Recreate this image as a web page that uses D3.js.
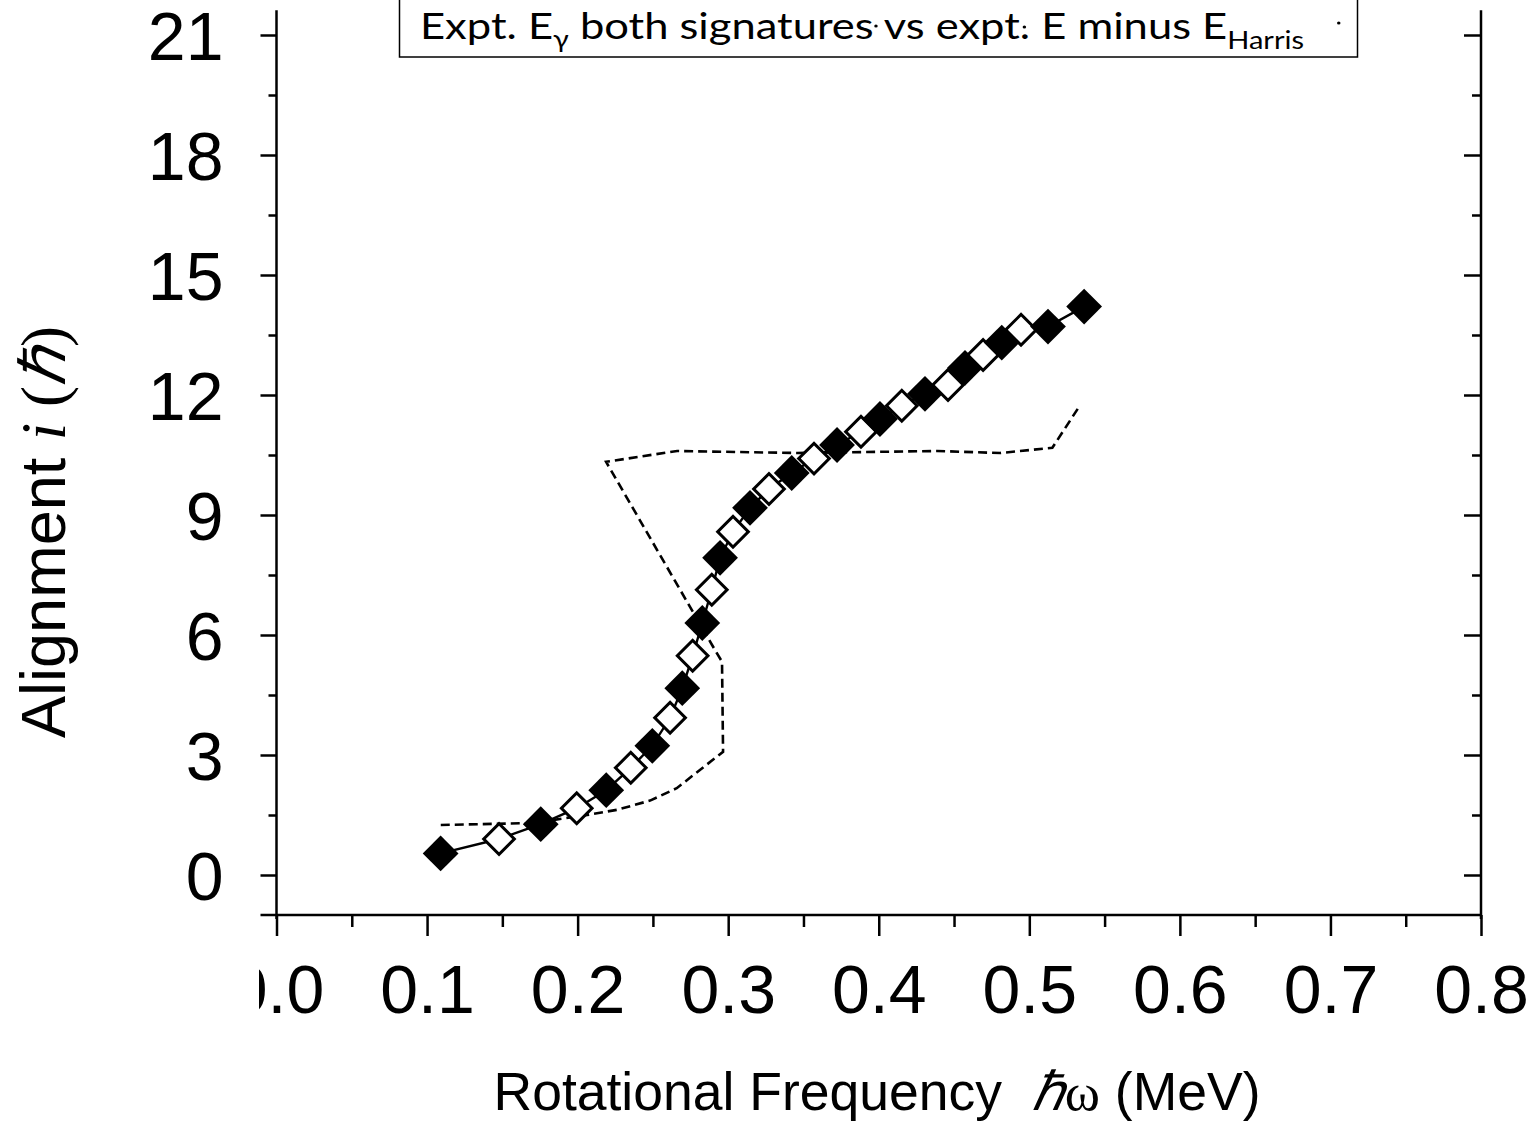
<!DOCTYPE html>
<html>
<head>
<meta charset="utf-8">
<script src="https://cdn.jsdelivr.net/npm/d3@7"></script>
<style>
  body { margin: 0; background: #fff; }
  svg { display: block; }
</style>
</head>
<body>
<div id="chart"></div>
<script>
// values
const filledX = [0.109, 0.1755, 0.219, 0.2496, 0.2695, 0.2828, 0.2946, 0.3145, 0.3422, 0.3723, 0.4008, 0.4307, 0.4573, 0.4817, 0.5124, 0.5364];
const filledY = [0.54, 1.27, 2.12, 3.23, 4.67, 6.3, 7.93, 9.18, 10.05, 10.75, 11.4, 12.03, 12.68, 13.31, 13.71, 14.21];
const openX = [0.1478, 0.1994, 0.2353, 0.2614, 0.2764, 0.2891, 0.3032, 0.3271, 0.357, 0.3882, 0.4153, 0.446, 0.4693, 0.4945];
const openY = [0.9, 1.67, 2.68, 3.93, 5.48, 7.13, 8.58, 9.65, 10.41, 11.08, 11.73, 12.25, 13.0, 13.63];
const harrisX = [0.1091, 0.1704, 0.2063, 0.2262, 0.2481, 0.2658, 0.2966, 0.2959, 0.2893, 0.2189, 0.2661, 0.3458, 0.4388, 0.4807, 0.5153, 0.5326];
const harrisY = [1.25, 1.3, 1.5, 1.63, 1.86, 2.17, 3.08, 5.33, 5.75, 10.33, 10.6, 10.55, 10.6, 10.55, 10.68, 11.68];
const xMajor = [0, 0.1, 0.2, 0.3, 0.4, 0.5, 0.6, 0.7, 0.8];
const xMinor = [0.05, 0.15, 0.25, 0.35, 0.45, 0.55, 0.65, 0.75];
const yMajor = [0, 3, 6, 9, 12, 15, 18, 21];
const yMinor = [1.5, 4.5, 7.5, 10.5, 13.5, 16.5, 19.5];

const W = 1535, H = 1148;
const svg = d3.select("#chart").append("svg")
  .attr("width", W).attr("height", H);

const x = d3.scaleLinear().domain([0, 0.8]).range([276.5, 1481]);
const y = d3.scaleLinear().domain([0, 21]).range([875, 35]);
const yBottom = -1, yTop = 21.62;

// --- axes ---
const axisStyle = g => {
  g.select(".domain").remove();
  g.selectAll("line").attr("stroke", "#000").attr("stroke-width", 2.5);
  g.selectAll("text").attr("fill", "#000")
    .attr("font-family", "Liberation Sans, Arial, sans-serif")
    .attr("font-size", 68);
};

// left
svg.append("g").attr("transform", `translate(${x(0)},0)`)
  .call(d3.axisLeft(y).tickValues(yMajor).tickSize(16).tickPadding(37).tickFormat(d3.format("d")))
  .call(axisStyle)
  .call(g => g.selectAll("text").attr("dy", "0.36em"));
svg.append("g").attr("transform", `translate(${x(0)},0)`)
  .call(d3.axisLeft(y).tickValues(yMinor).tickSize(8).tickFormat(""))
  .call(axisStyle);

// right (inward ticks, no labels)
svg.append("g").attr("transform", `translate(${x(0.8)},0)`)
  .call(d3.axisLeft(y).tickValues(yMajor).tickSize(17).tickFormat(""))
  .call(axisStyle);
svg.append("g").attr("transform", `translate(${x(0.8)},0)`)
  .call(d3.axisLeft(y).tickValues(yMinor).tickSize(9).tickFormat(""))
  .call(axisStyle);

// bottom, labels clipped on the left like the picture
svg.append("defs").append("clipPath").attr("id", "xclip")
  .append("rect").attr("x", 259).attr("y", 0).attr("width", W).attr("height", H);
svg.append("g").attr("transform", `translate(0,${y(yBottom)})`)
  .attr("clip-path", "url(#xclip)")
  .call(d3.axisBottom(x).tickValues(xMajor).tickSize(21).tickPadding(29).tickFormat(d3.format(".1f")))
  .call(axisStyle);
svg.append("g").attr("transform", `translate(0,${y(yBottom)})`)
  .call(d3.axisBottom(x).tickValues(xMinor).tickSize(12).tickFormat(""))
  .call(axisStyle);

// axis lines
const frame = svg.append("g").attr("stroke", "#000").attr("stroke-width", 2.5);
frame.append("line")
  .attr("x1", x(0)).attr("x2", x(0)).attr("y1", y(yTop)).attr("y2", y(yBottom) + 4);
frame.append("line")
  .attr("x1", x(0.8)).attr("x2", x(0.8)).attr("y1", y(yTop)).attr("y2", y(yBottom) + 4);
frame.append("line")
  .attr("x1", x(0) - 16).attr("x2", x(0.8)).attr("y1", y(yBottom)).attr("y2", y(yBottom));

// --- Harris reference (dashed) ---
const harris = harrisX.map((v, i) => [v, harrisY[i]]);
svg.append("path")
  .datum(harris)
  .attr("fill", "none")
  .attr("stroke", "#000")
  .attr("stroke-width", 2.6)
  .attr("stroke-dasharray", "9,5")
  .attr("d", d3.line().x(d => x(d[0])).y(d => y(d[1])));

// --- experimental points, both signatures ---
const pts = filledX.map((v, i) => ({ x: v, y: filledY[i], filled: true }))
  .concat(openX.map((v, i) => ({ x: v, y: openY[i], filled: false })))
  .sort((a, b) => a.x - b.x);

svg.append("path")
  .datum(pts)
  .attr("fill", "none")
  .attr("stroke", "#000")
  .attr("stroke-width", 2.4)
  .attr("d", d3.line().x(d => x(d.x)).y(d => y(d.y)));

svg.selectAll("path.pt")
  .data(pts)
  .enter()
  .append("path")
  .attr("class", "pt")
  .attr("transform", d => `translate(${x(d.x)},${y(d.y)}) rotate(45)`)
  .attr("d", d => d3.symbol(d3.symbolSquare, d.filled ? 640 : 470)())
  .attr("fill", d => d.filled ? "#000" : "#fff")
  .attr("stroke", "#000")
  .attr("stroke-width", d => d.filled ? 0 : 3);

// --- axis titles ---
const sans = "Liberation Sans, Arial, sans-serif";
const serif = "Liberation Serif, Times New Roman, serif";

const yt = svg.append("text")
  .attr("transform", "translate(65,532) rotate(-90)")
  .attr("text-anchor", "middle")
  .attr("font-family", sans)
  .attr("font-size", 63)
  .attr("fill", "#000");
yt.append("tspan").text("Alignment ");
yt.append("tspan").attr("font-family", serif).attr("font-style", "italic").text("i");
yt.append("tspan").attr("font-family", serif).text(" (");
yt.append("tspan").attr("font-family", serif).attr("font-style", "italic").text("\u210F");
yt.append("tspan").attr("font-family", serif).text(")");

const xt = svg.append("text")
  .attr("x", 877).attr("y", 1110)
  .attr("text-anchor", "middle")
  .attr("font-family", sans)
  .attr("font-size", 53.5)
  .attr("fill", "#000")
  .attr("xml:space", "preserve");
xt.append("tspan").text("Rotational Frequency  ");
xt.append("tspan").attr("font-family", serif).attr("font-style", "italic").text("\u210F");
xt.append("tspan").attr("font-family", serif).text("\u03C9");
xt.append("tspan").text(" (MeV)");

// --- title box ---
svg.append("rect")
  .attr("x", 399.5).attr("y", -5).attr("width", 958).attr("height", 62)
  .attr("fill", "#fff").attr("stroke", "#000").attr("stroke-width", 1.5);

const tg = svg.append("g").attr("transform", "translate(420,39) scale(1.16,1)");
const tt = tg.append("text")
  .attr("font-family", "Lato, Open Sans, sans-serif")
  .attr("font-size", 37.5)
  .attr("fill", "#000");
tt.append("tspan").text("Expt. E");
tt.append("tspan").attr("font-size", 25).attr("dy", 9).text("\u03B3");
tt.append("tspan").attr("dy", -9).text(" both signatures vs expt. E minus E");
tt.append("tspan").attr("font-size", 25).attr("dy", 10).text("Harris");

// small stray marks seen in the title, placed relative to the glyphs
const full = tt.text();
const node = tt.node();
const endSig = node.getEndPositionOfChar(full.indexOf("signatures") + 9);
const dotExpt = node.getStartPositionOfChar(full.indexOf("expt.") + 4);
const endHarris = node.getEndPositionOfChar(full.length - 1);
tg.append("g").attr("fill", "#000")
  .selectAll("circle")
  .data([[endSig.x + 2, -13], [dotExpt.x + 4, -12], [endHarris.x + 30, -16]])
  .enter().append("circle")
  .attr("cx", d => d[0]).attr("cy", d => d[1]).attr("r", 1.5);
</script>
</body>
</html>
